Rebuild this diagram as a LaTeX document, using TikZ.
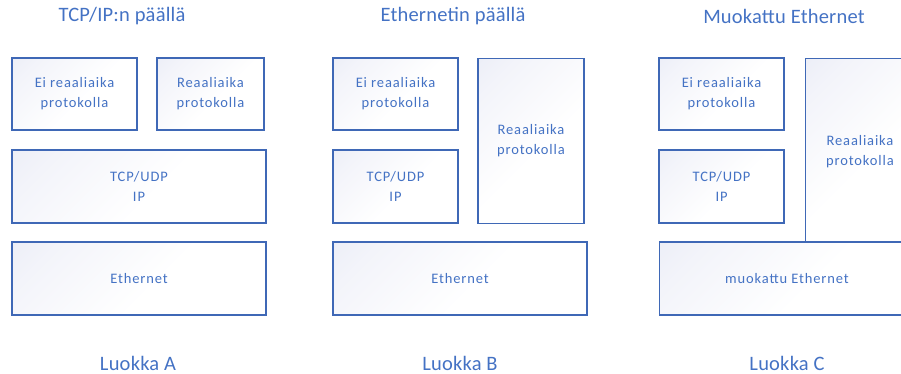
\documentclass[tikz,border=0pt]{standalone}
\usepackage{fontspec}
\setmainfont{Carlito}
\newfontfamily\boxfont{Carlito}[LetterSpace=6]
\newfontfamily\headfont{Carlito}[LetterSpace=1]
\definecolor{bl}{HTML}{4472C4}
\definecolor{bd}{HTML}{3F68B6}
\definecolor{lav}{HTML}{E4E7F3}
\definecolor{midc}{HTML}{F3F4FA}
\pgfdeclareverticalshading{lavshade}{100bp}{color(0bp)=(white); color(45bp)=(white); color(75bp)=(midc); color(100bp)=(lav)}
\begin{document}
\begin{tikzpicture}[x=1pt,y=-1pt,
  btext/.style={text=bl, font=\boxfont\fontsize{14.5}{20}\selectfont, align=center},
  layer/.style={draw=bd, line width=1.4pt, shading=lavshade, shading angle=45,
     btext, inner sep=0pt},
  head/.style={text=bl, font=\headfont\fontsize{20.5}{24}\selectfont, inner sep=0pt}]
\useasboundingbox (0,0) rectangle (901,374);
\clip (0,0) rectangle (901,374);
% Panel A
\node[head] (ta) at (122,16) {TCP/IP:n päällä};
\node[layer, minimum width=125, minimum height=72] (a1) at (74.5,94) {Ei reaaliaika\\protokolla};
\node[layer, minimum width=107, minimum height=72] (a2) at (210.5,94) {Reaaliaika\\protokolla};
\node[layer, minimum width=254, minimum height=73] (a3) at (139,186.5) {TCP/UDP\\IP};
\node[layer, minimum width=254, minimum height=73] (a4) at (139,278.5) {Ethernet};
\node[head] (la) at (138,363) {Luokka A};
% Panel B
\node[head] (tb) at (453,16) {Ethernetin päällä};
\node[layer, minimum width=125, minimum height=72] (b1) at (395.5,94) {Ei reaaliaika\\protokolla};
\node[layer, minimum width=125, minimum height=73] (b2) at (395.5,186.5) {TCP/UDP\\IP};
\node[layer, minimum width=106, minimum height=165, anchor=north] (b3) at (531,58) {};
\node[btext] (b3t) at (531,141) {Reaaliaika\\protokolla};
\node[layer, minimum width=254, minimum height=73] (b4) at (460,278.5) {Ethernet};
\node[head] (lb) at (460,363) {Luokka B};
% Panel C
\node[head] (tc) at (784,16) {Muokattu Ethernet};
\node[layer, minimum width=125, minimum height=72] (c1) at (721.5,94) {Ei reaaliaika\\protokolla};
\node[layer, minimum width=125, minimum height=73] (c2) at (721.5,186.5) {TCP/UDP\\IP};
\node[layer, minimum width=110, minimum height=184, anchor=north west] (c3) at (805,58) {};
\node[btext] (c3t) at (860,152) {Reaaliaika\\protokolla};
\node[layer, minimum width=270, minimum height=73, anchor=west] (c4) at (659,278.5) {};
\node[btext] (c4t) at (787,279) {muokattu Ethernet};
\node[head] (lc) at (787,363) {Luokka C};
\end{tikzpicture}
\end{document}
